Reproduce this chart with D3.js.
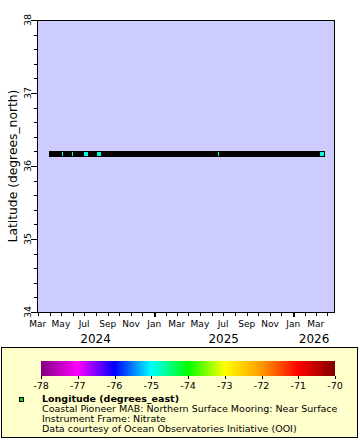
<!DOCTYPE html>
<html><head><meta charset="utf-8">
<script src="https://cdn.jsdelivr.net/npm/d3@7"></script>
<style>
body{margin:0;background:#fff}
svg{display:block;font-family:"DejaVu Sans",sans-serif}
</style>
</head><body>
<svg id="chart" width="360" height="440"></svg>
<script>
// ---- data ----
// continuous stretches of observations without a longitude value (drawn black)
const trackStart = ["2024-03-31","2024-05-07","2024-06-02","2024-07-12","2024-08-15","2025-06-20"];
const trackEnd   = ["2024-05-04","2024-05-30","2024-07-01","2024-08-03","2025-06-17","2026-03-13"];
const trackLat   = [36.165, 36.165, 36.165, 36.165, 36.165, 36.165];
// observations that carry a longitude (coloured markers)
const obsTime = ["2024-05-09","2024-06-04","2024-07-06","2024-08-09","2025-06-23","2026-03-18"];
const obsLat  = [36.165, 36.165, 36.165, 36.165, 36.165, 36.165];
const obsLon  = [-74.85, -74.85, -74.85, -74.85, -74.85, -74.85];
const latTicks = [34, 35, 36, 37, 38];
const lonTicks = [-78, -77, -76, -75, -74, -73, -72, -71, -70];
const rainbow  = ["#800080","#ff00ff","#0000ff","#00ffff","#00ff00","#ffff00","#ff9900","#ff0000","#800000"];
const timeDomain = ["2024-02-28T04:00:00Z","2026-04-20T17:00:00Z"];
const legendTitle = "Longitude (degrees_east)";
const legendLines = ["Coastal Pioneer MAB: Northern Surface Mooring: Near Surface",
                     "Instrument Frame: Nitrate",
                     "Data courtesy of Ocean Observatories Initiative (OOI)"];
const yTitle = "Latitude (degrees_north)";

// ---- layout ----
const svg = d3.select("#chart");
const L = 37, R = 335, T = 20, B = 312;
const parse = s => new Date(s.length === 10 ? s + "T00:00:00Z" : s);

const x = d3.scaleUtc().domain(timeDomain.map(parse)).range([L, R]);
const y = d3.scaleLinear().domain([34, 38]).range([B, T]);
const color = d3.scaleLinear().domain(lonTicks).range(rainbow).interpolate(d3.interpolateRgb);

svg.append("rect").attr("width", 360).attr("height", 440).attr("fill", "#fff");
svg.append("rect").attr("x", L).attr("y", T).attr("width", R - L).attr("height", B - T)
  .attr("fill", "#ccccff");

// ---- markers ----
const g = svg.append("g").attr("shape-rendering", "crispEdges");
g.selectAll("rect.obs").data(obsTime.map((t, i) => ({t: parse(t), lat: obsLat[i], lon: obsLon[i]})))
  .join("rect").attr("class", "obs")
  .attr("x", d => x(d.t) - 2.5).attr("y", d => y(d.lat) - 2.5)
  .attr("width", 5).attr("height", 5)
  .attr("fill", d => color(d.lon)).attr("stroke", "#000").attr("stroke-width", 1);
g.selectAll("rect.trk").data(trackStart.map((s, i) => ({s: parse(s), e: parse(trackEnd[i]), lat: trackLat[i]})))
  .join("rect").attr("class", "trk")
  .attr("x", d => x(d.s)).attr("y", d => y(d.lat) - 3)
  .attr("width", d => x(d.e) - x(d.s)).attr("height", 6)
  .attr("fill", "#000");

// ---- frame ----
svg.append("rect").attr("x", L + 0.5).attr("y", T + 0.5).attr("width", R - L - 1).attr("height", B - T)
  .attr("fill", "none").attr("stroke", "#000");

// ---- y axis ----
const ya = svg.append("g").attr("shape-rendering", "crispEdges");
const minorY = d3.range(34, 38.001, 0.2);
ya.selectAll("line.mi").data(minorY).join("line")
  .attr("x1", L - 3).attr("x2", L).attr("y1", d => Math.round(y(d)) + 0.5).attr("y2", d => Math.round(y(d)) + 0.5)
  .attr("stroke", "#000");
ya.selectAll("line.ma").data(latTicks).join("line")
  .attr("x1", L - 6).attr("x2", L).attr("y1", d => Math.round(y(d)) + 0.5).attr("y2", d => Math.round(y(d)) + 0.5)
  .attr("stroke", "#000");
svg.append("g").selectAll("text").data(latTicks).join("text")
  .attr("transform", d => `translate(30.5,${y(d)}) rotate(-90)`)
  .attr("text-anchor", "middle").attr("font-size", 9.5).text(d => d);
svg.append("text").attr("transform", `translate(17,${(T + B) / 2}) rotate(-90)`)
  .attr("text-anchor", "middle").attr("font-size", 12.3).text(yTitle);

// ---- x axis ----
const xa = svg.append("g").attr("shape-rendering", "crispEdges");
const months = d3.utcMonth.range(x.domain()[0], x.domain()[1]);
xa.selectAll("line").data(months).join("line")
  .attr("x1", d => Math.round(x(d)) + 0.5).attr("x2", d => Math.round(x(d)) + 0.5)
  .attr("y1", B).attr("y2", d => d.getUTCMonth() === 0 ? B + 5 : B + 4)
  .attr("stroke", "#000").attr("stroke-width", d => d.getUTCMonth() === 0 ? 2 : 1);
const labMonths = months.filter(d => d.getUTCMonth() % 2 === 0);
svg.append("g").selectAll("text").data(labMonths).join("text")
  .attr("x", d => x(d)).attr("y", 326.5).attr("text-anchor", "middle").attr("font-size", 9)
  .text(d3.utcFormat("%b"));
const years = d3.utcYear.range(d3.utcYear.floor(x.domain()[0]), x.domain()[1]);
svg.append("g").selectAll("text").data(years).join("text")
  .attr("x", d => {
    const a = Math.max(x(d), L), b = Math.min(x(d3.utcYear.offset(d, 1)), R);
    return (a + b) / 2;
  })
  .attr("y", 342.7).attr("text-anchor", "middle").attr("font-size", 12)
  .text(d3.utcFormat("%Y"));

// ---- legend ----
const lg = svg.append("g");
lg.append("rect").attr("x", 1.5).attr("y", 347.5).attr("width", 356).attr("height", 90)
  .attr("fill", "#ffffcc").attr("stroke", "#000");
const cb = d3.scaleLinear().domain([-78, -70]).range([41, 335]);
const defs = svg.append("defs");
const grad = defs.append("linearGradient").attr("id", "rb");
lonTicks.forEach((v, i) => grad.append("stop").attr("offset", (i / (lonTicks.length - 1))).attr("stop-color", color(v)));
lg.append("rect").attr("x", cb(-78)).attr("y", 361).attr("width", cb(-70) - cb(-78)).attr("height", 15)
  .attr("fill", "url(#rb)");
lg.selectAll("line.cb").data(lonTicks).join("line")
  .attr("x1", d => Math.round(cb(d)) + 0.5).attr("x2", d => Math.round(cb(d)) + 0.5)
  .attr("y1", 376).attr("y2", 379).attr("stroke", "#000").attr("shape-rendering", "crispEdges");
lg.selectAll("text.cb").data(lonTicks).join("text")
  .attr("x", d => cb(d)).attr("y", 388.5).attr("text-anchor", "middle").attr("font-size", 9.5)
  .text(d => d);
lg.append("rect").attr("x", 19.5).attr("y", 397.5).attr("width", 4).attr("height", 4)
  .attr("fill", "#00e000").attr("stroke", "#000").attr("shape-rendering", "crispEdges");
lg.append("text").attr("x", 42).attr("y", 402).attr("font-size", 9.5).attr("font-weight", "bold").text(legendTitle);
lg.selectAll("text.ln").data(legendLines).join("text")
  .attr("x", 42).attr("y", (d, i) => 411.5 + i * 10.3).attr("font-size", 9.5).text(d => d);
</script>
</body></html>
